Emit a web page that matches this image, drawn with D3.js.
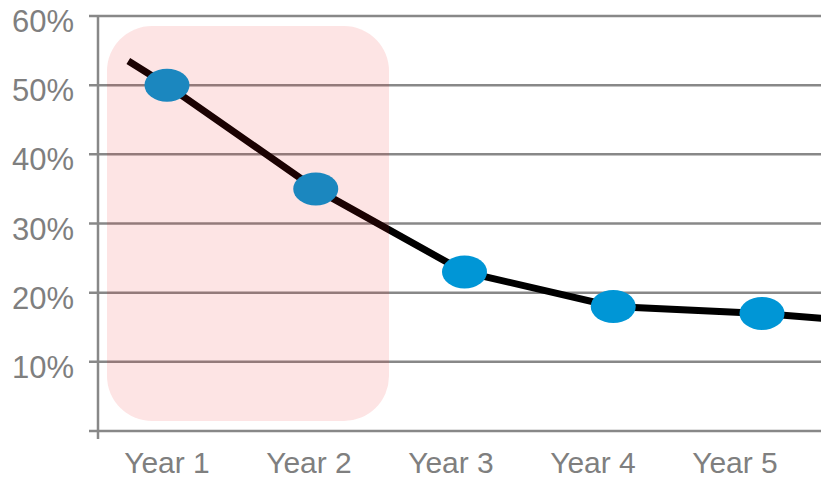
<!DOCTYPE html>
<html lang="en">
<head>
  <meta charset="UTF-8">
  <title>Chart</title>
</head>
<body>
<style>
  * { padding: 0; margin: 0; }
  body { background: #fff; }
  #app { width: 821px; height: 481px; }
  #app svg { display: block; }
</style>

<div id="app"></div>

<script src="https://cdn.jsdelivr.net/npm/d3@7/dist/d3.min.js"></script>
<script>
  var categories = ['Year 1', 'Year 2', 'Year 3', 'Year 4', 'Year 5'];
  var values = [50, 35, 23, 18, 17];
  // the line runs a bit past the first and last point
  var lineLead = { pos: -0.26, value: 53.5 };
  var lineTail = { pos: 4.4, value: 16.3 };
  var yTicks = [10, 20, 30, 40, 50, 60];

  function drawChart() {
    var W = 821, H = 481;
    var svg = d3.select('#app').append('svg').attr('width', W).attr('height', H);

    var y = d3.scaleLinear().domain([0, 60]).range([431, 16]);
    // marker positions
    var xPos = d3.scaleLinear().domain([0, 4]).range([167, 762]);
    // category labels sit on their own band
    var xBand = d3.scaleBand().domain(categories).range([96, 806]);

    var axisColor = '#888888';
    var font = 'Liberation Sans, Arial, sans-serif';

    // gridlines + baseline
    svg.append('g').selectAll('line')
      .data([0].concat(yTicks))
      .join('line')
      .attr('x1', 89).attr('x2', W)
      .attr('y1', d => y(d)).attr('y2', d => y(d))
      .attr('stroke', axisColor).attr('stroke-width', 2.5);

    // vertical axis
    svg.append('line')
      .attr('x1', 98).attr('x2', 98)
      .attr('y1', y(60) - 1).attr('y2', y(0) + 8)
      .attr('stroke', axisColor).attr('stroke-width', 2.5);

    // y tick labels
    svg.append('g').selectAll('text')
      .data(yTicks)
      .join('text')
      .attr('x', 74).attr('y', d => y(d) + 16)
      .attr('text-anchor', 'end')
      .attr('font-family', font)
      .attr('font-size', 31).attr('fill', '#7f7f7f')
      .text(d => d + '%');

    // x labels
    svg.append('g').selectAll('text')
      .data(categories)
      .join('text')
      .attr('x', d => xBand(d) + xBand.bandwidth() / 2)
      .attr('y', 473)
      .attr('text-anchor', 'middle')
      .attr('font-family', font)
      .attr('font-size', 30).attr('fill', '#7f7f7f')
      .text(d => d);

    // line
    var pts = [[lineLead.pos, lineLead.value]]
      .concat(values.map((v, i) => [i, v]))
      .concat([[lineTail.pos, lineTail.value]]);
    var line = d3.line().x(d => xPos(d[0])).y(d => y(d[1]));
    svg.append('path')
      .attr('d', line(pts))
      .attr('fill', 'none').attr('stroke', '#000').attr('stroke-width', 7);

    // markers
    svg.append('g').selectAll('ellipse')
      .data(values)
      .join('ellipse')
      .attr('cx', (d, i) => xPos(i)).attr('cy', d => y(d))
      .attr('rx', 22.5).attr('ry', 16.5)
      .attr('fill', '#0096d6');

    // translucent highlight box on top
    var hx0 = 107, hx1 = 389;
    svg.append('rect')
      .attr('x', hx0).attr('y', 26)
      .attr('width', hx1 - hx0).attr('height', 421 - 26)
      .attr('rx', 45).attr('ry', 45)
      .attr('fill', 'rgb(237,18,18)').attr('fill-opacity', 0.114);
  }
  drawChart();
</script>
</body>
</html>
